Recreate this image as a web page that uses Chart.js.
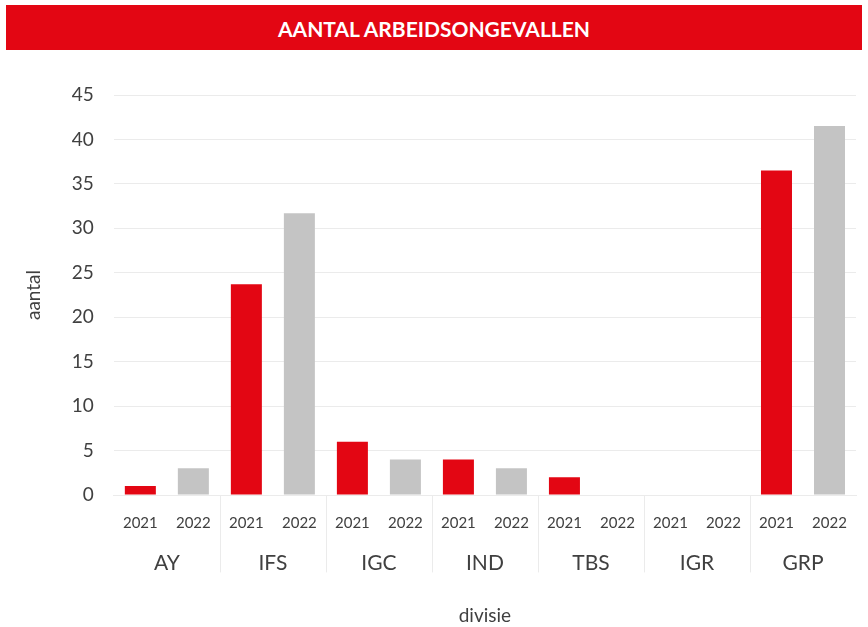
<!DOCTYPE html>
<html lang="nl">
<head>
  <meta charset="UTF-8" />
  <title>Aantal arbeidsongevallen</title>
  <script src="https://cdn.jsdelivr.net/npm/chart.js"></script>
  <style>
    body {
      margin: 0;
      background: #fff;
      font-family: Lato, sans-serif;
    }

    .banner {
      position: absolute;
      left: 6px;
      top: 5px;
      width: 856px;
      height: 45px;
      background: #e30613;
      color: #fff;
      font-weight: bold;
      font-size: 21px;
      line-height: 47px;
      text-align: center;
    }

    .wrap {
      position: absolute;
      left: 0;
      top: 50px;
      width: 868px;
      height: 577px;
    }
  </style>
</head>
<body>
  <div class="banner">AANTAL ARBEIDSONGEVALLEN</div>
  <div class="wrap"><canvas id="chart"></canvas></div>

  <script>
    const divisies = ['AY', 'IFS', 'IGC', 'IND', 'TBS', 'IGR', 'GRP'];
    const jaren = ['2021', '2022'];
    const aantal2021 = [1, 23.7, 6, 4, 2, 0, 36.5];
    const aantal2022 = [3, 31.7, 4, 3, 0, 0, 41.5];
    const yTicks = [0, 5, 10, 15, 20, 25, 30, 35, 40, 45];

    const kleuren = { '2021': '#e30613', '2022': '#c4c4c4' };
    const tekst = '#404040';
    const lijn = '#ebebeb';

    // one bar per (divisie, jaar) slot
    const labels = divisies.flatMap(() => jaren);
    const waarden = divisies.flatMap((d, i) => [aantal2021[i], aantal2022[i]]);
    const barKleuren = labels.map(j => kleuren[j]);

    // vertical dividers between the divisions, below the plot
    const dividers = {
      id: 'dividers',
      afterDraw(chart) {
        const x = chart.scales.x;
        const x2 = chart.scales.x2;
        const ctx = chart.ctx;
        const yEnd = x2.top + x2.options.ticks.font.size * 1.4;
        ctx.save();
        ctx.strokeStyle = lijn;
        ctx.lineWidth = 1;
        for (let i = 1; i < divisies.length; i++) {
          const px = Math.round((x.getPixelForValue(i * 2 - 1) + x.getPixelForValue(i * 2)) / 2) + 0.5;
          ctx.beginPath();
          ctx.moveTo(px, chart.chartArea.bottom);
          ctx.lineTo(px, yEnd);
          ctx.stroke();
        }
        ctx.restore();
      }
    };

    new Chart(document.getElementById('chart'), {
      type: 'bar',
      data: {
        labels,
        datasets: [{
          label: 'aantal',
          data: waarden,
          backgroundColor: barKleuren,
          barPercentage: 0.585,
          categoryPercentage: 1
        }]
      },
      options: {
        responsive: true,
        maintainAspectRatio: false,
        animation: false,
        layout: { padding: { top: 45, right: 12, left: 22, bottom: 0 } },
        plugins: {
          legend: { display: false },
          tooltip: { enabled: false }
        },
        scales: {
          x: {
            weight: 0,
            grid: { display: false },
            border: { color: lijn },
            ticks: {
              color: tekst,
              font: { family: 'Lato', size: 15 },
              padding: 11,
              maxRotation: 0,
              autoSkip: false
            }
          },
          x2: {
            type: 'category',
            labels: divisies,
            position: 'bottom',
            weight: 1,
            offset: true,
            grid: { display: false },
            border: { display: false },
            ticks: {
              color: tekst,
              font: { family: 'Lato', size: 21 },
              padding: 0
            },
            title: {
              display: true,
              text: 'divisie',
              color: tekst,
              font: { family: 'Lato', size: 19 },
              padding: { top: 28, bottom: 0 }
            }
          },
          y: {
            min: 0,
            max: 45,
            afterBuildTicks(scale) {
              scale.ticks = yTicks.map(v => ({ value: v }));
            },
            grid: { color: lijn, drawTicks: false },
            border: { display: false },
            ticks: {
              color: tekst,
              font: { family: 'Lato', size: 19 },
              padding: 20
            },
            title: {
              display: true,
              text: 'aantal',
              color: tekst,
              font: { family: 'Lato', size: 19 },
              padding: { top: 0, bottom: 7 }
            }
          }
        }
      },
      plugins: [dividers]
    });
  </script>
</body>
</html>
